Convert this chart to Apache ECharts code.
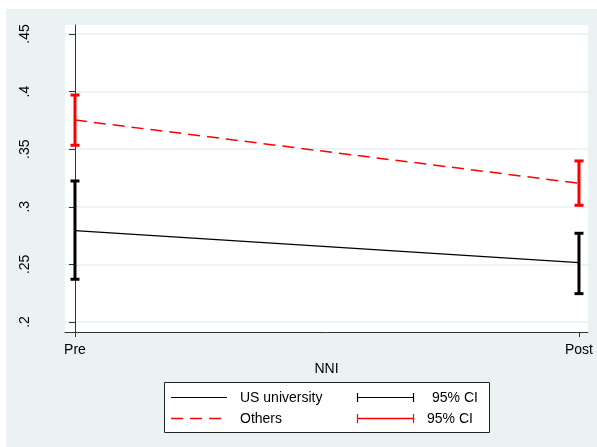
<!DOCTYPE html>
<html><head><meta charset="utf-8">
<script src="https://cdn.jsdelivr.net/npm/echarts@6/dist/echarts.min.js"></script>
<style>html,body{margin:0;padding:0;background:#fff}#c{width:597px;height:447px}</style>
</head><body><div id="c"></div>
<script>
const categories = ['Pre', 'Post'];
const seriesNames = ['US university', 'Others'];
const usMean = [0.2793, 0.2515];
const usLow = [0.2371, 0.2246];
const usHigh = [0.3224, 0.2770];
const othMean = [0.3753, 0.3204];
const othLow = [0.3534, 0.3013];
const othHigh = [0.3970, 0.3398];
const yTicks = [0.2, 0.25, 0.3, 0.35, 0.4, 0.45];
const yTickLabels = ['.2', '.25', '.3', '.35', '.4', '.45'];
const ciLabel = '95% CI';
const xTitle = 'NNI';

const FONT = 'Liberation Sans, Arial, sans-serif';
const chart = echarts.init(document.getElementById('c'), null, {renderer: 'canvas'});

function ciSeries(low, high, color) {
  return {
    type: 'custom',
    data: categories.map((c, i) => [i, low[i], high[i]]),
    encode: {x: 0, y: [1, 2]},
    z: 5,
    renderItem: function (params, api) {
      const x = api.value(0);
      const p1 = api.coord([x, api.value(1)]);
      const p2 = api.coord([x, api.value(2)]);
      const hw = 4.5;
      const st = {stroke: color, lineWidth: 3};
      return {type: 'group', children: [
        {type: 'line', shape: {x1: p1[0], y1: p1[1], x2: p2[0], y2: p2[1]}, style: st},
        {type: 'line', shape: {x1: p1[0] - hw, y1: p1[1], x2: p1[0] + hw, y2: p1[1]}, style: st},
        {type: 'line', shape: {x1: p2[0] - hw, y1: p2[1], x2: p2[0] + hw, y2: p2[1]}, style: st}
      ]};
    }
  };
}

const legendGraphics = [
  {type: 'rect', shape: {x: 164.5, y: 382.5, width: 325, height: 50}, style: {fill: '#fff', stroke: '#222', lineWidth: 1}},
  {type: 'line', shape: {x1: 171, y1: 397.5, x2: 227, y2: 397.5}, style: {stroke: '#000', lineWidth: 1.2}},
  {type: 'text', x: 240, y: 398, style: {text: seriesNames[0], font: '14px ' + FONT, fill: '#000', verticalAlign: 'middle'}},
  {type: 'line', shape: {x1: 357, y1: 397.5, x2: 414, y2: 397.5}, style: {stroke: '#000', lineWidth: 1.2}},
  {type: 'line', shape: {x1: 357.5, y1: 393, x2: 357.5, y2: 402}, style: {stroke: '#000', lineWidth: 1.2}},
  {type: 'line', shape: {x1: 413.5, y1: 393, x2: 413.5, y2: 402}, style: {stroke: '#000', lineWidth: 1.2}},
  {type: 'text', x: 432, y: 398, style: {text: ciLabel, font: '14px ' + FONT, fill: '#000', verticalAlign: 'middle'}},
  {type: 'line', shape: {x1: 171, y1: 418.5, x2: 227, y2: 418.5}, style: {stroke: '#ff0000', lineWidth: 1.5, lineDash: [12, 7]}},
  {type: 'text', x: 240, y: 419, style: {text: seriesNames[1], font: '14px ' + FONT, fill: '#000', verticalAlign: 'middle'}},
  {type: 'line', shape: {x1: 357, y1: 418.5, x2: 414, y2: 418.5}, style: {stroke: '#ff0000', lineWidth: 1.5}},
  {type: 'line', shape: {x1: 357.5, y1: 414, x2: 357.5, y2: 423}, style: {stroke: '#ff0000', lineWidth: 1.2}},
  {type: 'line', shape: {x1: 413.5, y1: 414, x2: 413.5, y2: 423}, style: {stroke: '#ff0000', lineWidth: 1.2}},
  {type: 'text', x: 427, y: 419, style: {text: ciLabel, font: '14px ' + FONT, fill: '#000', verticalAlign: 'middle'}}
];

const option = {
  animation: false,
  backgroundColor: '#fff',
  textStyle: {fontFamily: FONT},
  graphic: [
    {type: 'rect', z: -10, silent: true, shape: {x: 6, y: 9, width: 591, height: 438}, style: {fill: '#EAF2F3'}}
  ].concat(legendGraphics),
  grid: {left: 65, top: 25, right: 9, bottom: 115, show: true, backgroundColor: '#fff', borderWidth: 0},
  xAxis: {
    type: 'value', min: -0.0198, max: 1.0179,
    name: xTitle, nameLocation: 'middle', nameGap: 22,
    nameTextStyle: {fontSize: 14, color: '#000', fontFamily: FONT},
    axisLine: {show: true, lineStyle: {color: '#333', width: 1}},
    axisTick: {show: true, length: 5, customValues: [0, 1], lineStyle: {color: '#333'}},
    axisLabel: {customValues: [0, 1], formatter: v => categories[Math.round(v)], fontSize: 14, color: '#000', margin: 11, fontFamily: FONT},
    splitLine: {show: false}
  },
  yAxis: {
    type: 'value', min: 0.1913, max: 0.4578,
    axisLine: {show: true, lineStyle: {color: '#333', width: 1}},
    axisTick: {show: true, length: 6, customValues: yTicks, lineStyle: {color: '#333'}},
    axisLabel: {customValues: yTicks, rotate: 90, margin: 33, fontSize: 14, color: '#000', fontFamily: FONT,
      formatter: v => { const i = yTicks.findIndex(t => Math.abs(t - v) < 1e-6); return i >= 0 ? yTickLabels[i] : ''; }},
    splitLine: {show: true, lineStyle: {color: '#E7F0F2', width: 1.5}}
  },
  series: [
    {name: seriesNames[0], type: 'line', data: categories.map((c, i) => [i, usMean[i]]), symbol: 'none',
      lineStyle: {color: '#000', width: 1.2}, z: 3},
    {name: seriesNames[1], type: 'line', data: categories.map((c, i) => [i, othMean[i]]), symbol: 'none',
      lineStyle: {color: '#ff0000', width: 1.5, type: [12, 7]}, z: 3},
    ciSeries(usLow, usHigh, '#000'),
    ciSeries(othLow, othHigh, '#ff0000')
  ]
};
chart.setOption(option);
</script></body></html>
